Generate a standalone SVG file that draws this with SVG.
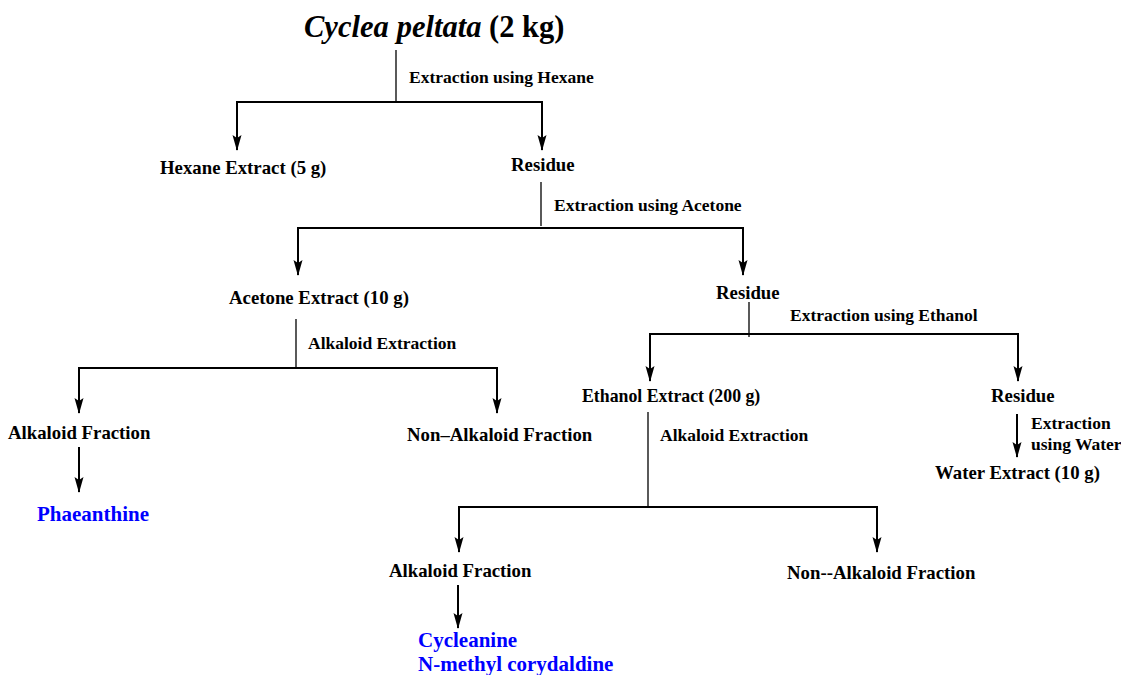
<svg xmlns="http://www.w3.org/2000/svg" width="1121" height="675" viewBox="0 0 1121 675">
<style>
text{font-family:"Liberation Serif","Times New Roman",serif;font-weight:bold;fill:#000}
.n{font-size:18.8px}
.a{font-size:17.5px}
.b{font-size:21px;fill:#0000ff}
.t{font-size:30.5px}
.c line,.c path{stroke:#000;stroke-width:2;fill:none}
.c .thin{stroke-width:1.3}
</style>
<defs>
<marker id="ah" viewBox="0 0 16 10" refX="15" refY="5" markerWidth="16" markerHeight="10" markerUnits="userSpaceOnUse" orient="auto-start-reverse">
<path d="M0,0.5 L16,5 L0,9.5 L3,5 Z" fill="#000" stroke="none"/>
</marker>
</defs>
<rect width="1121" height="675" fill="#fff"/>
<g id="title"><text class="t" x="304" y="37"><tspan font-style="italic">Cyclea</tspan><tspan font-style="italic" dx="8">peltata</tspan> (2 kg)</text></g>
<g id="hexane-extract"><text class="n" x="160" y="174">Hexane Extract (5 g)</text></g>
<g id="residue1"><text class="n" x="511" y="171">Residue</text></g>
<g id="acetone-extract"><text class="n" x="229" y="304">Acetone Extract (10 g)</text></g>
<g id="residue2"><text class="n" x="716" y="299">Residue</text></g>
<g id="alkaloid-fraction1"><text class="n" x="8" y="439">Alkaloid Fraction</text></g>
<g id="non-alkaloid1"><text class="n" x="407" y="441">Non–Alkaloid Fraction</text></g>
<g id="phaeanthine"><text class="b" x="37" y="521">Phaeanthine</text></g>
<g id="ethanol-extract"><text class="n" x="582" y="402" style="font-size:17.8px">Ethanol Extract (200 g)</text></g>
<g id="residue3"><text class="n" x="991" y="402">Residue</text></g>
<g id="water-extract"><text class="n" x="935" y="479">Water Extract (10 g)</text></g>
<g id="alkaloid-fraction2"><text class="n" x="389" y="577">Alkaloid Fraction</text></g>
<g id="non-alkaloid2"><text class="n" x="787" y="579">Non--Alkaloid Fraction</text></g>
<g id="products2"><text class="b" x="418" y="647">Cycleanine</text><text class="b" x="418" y="671">N-methyl corydaldine</text></g>
<g id="connectors" class="c">
<line class="thin" x1="396" y1="50" x2="396" y2="101"/>
<path d="M237,150 V102 H542 V150" marker-start="url(#ah)" marker-end="url(#ah)"/>
<text class="a" x="409" y="83">Extraction using Hexane</text>
<line class="thin" x1="541" y1="182" x2="541" y2="226"/>
<path d="M298,275 V228 H743 V275" marker-start="url(#ah)" marker-end="url(#ah)"/>
<text class="a" x="554" y="211">Extraction using Acetone</text>
<line class="thin" x1="749" y1="302" x2="749" y2="337"/>
<path d="M650,381 V334 H1018 V381" marker-start="url(#ah)" marker-end="url(#ah)"/>
<text class="a" x="790" y="321">Extraction using Ethanol</text>
<line x1="1017" y1="414" x2="1017" y2="457" marker-end="url(#ah)"/>
<text class="a" x="1031" y="429">Extraction</text>
<text class="a" x="1031" y="450">using Water</text>
<line class="thin" x1="296" y1="319" x2="296" y2="367"/>
<path d="M79,413 V368 H497 V413" marker-start="url(#ah)" marker-end="url(#ah)"/>
<text class="a" x="308" y="349">Alkaloid Extraction</text>
<line x1="79" y1="447" x2="79" y2="492" marker-end="url(#ah)"/>
<line class="thin" x1="648" y1="412" x2="648" y2="506"/>
<path d="M459,552 V507 H877 V552" marker-start="url(#ah)" marker-end="url(#ah)"/>
<text class="a" x="660" y="441">Alkaloid Extraction</text>
<line x1="458" y1="585" x2="458" y2="628" marker-end="url(#ah)"/>
</g>
</svg>
